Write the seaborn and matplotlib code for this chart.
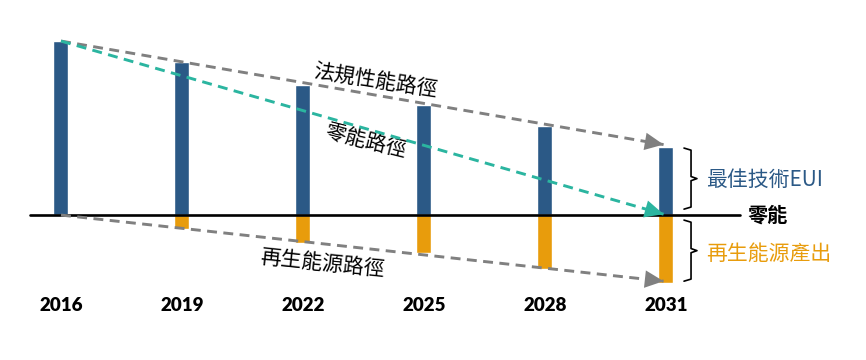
import matplotlib
matplotlib.use("Agg")
import matplotlib.pyplot as plt
import seaborn as sns
import pandas as pd

# ---- data ----
years = ["2016", "2019", "2022", "2025", "2028", "2031"]
best_eui = [100, 88, 75, 63, 51, 39]
renewable = [0, -8, -16, -22, -31, -39]

label_reg = "法規性能路徑"
label_zero_path = "零能路徑"
label_ren_path = "再生能源路徑"
label_eui = "最佳技術EUI"
label_zero = "零能"
label_ren_out = "再生能源產出"

BLUE = "#2B5986"
ORANGE = "#E89C0C"
TEAL = "#2BB5A0"
GRAY = "#808080"

sns.set_theme(style="white")
plt.rcParams['font.family'] = ['Noto Sans CJK TC', 'DejaVu Sans']

fig = plt.figure(figsize=(8.66, 3.6), dpi=100)
ax = fig.add_axes([0, 0, 1, 1])
df = pd.DataFrame({"year": years, "eui": best_eui, "ren": renewable})
sns.barplot(data=df, x="year", y="eui", color=BLUE, saturation=1, width=0.124,
            errorbar=None, ax=ax, zorder=2)
sns.barplot(data=df, x="year", y="ren", color=ORANGE, saturation=1, width=0.124,
            errorbar=None, ax=ax, zorder=2)
ax.set_xlim(-0.504, 6.653)
ax.set_ylim(-83.3, 123.6)
ax.axis("off")

# baseline
ax.axhline(0, xmin=0.035, xmax=0.854, color="black", lw=1.9, zorder=4)

n = len(years) - 1


def dashed_arrow(x0, y0, x1, y1, color):
    ax.plot([x0, x1], [y0, y1], color=color,
            lw=2.1, dashes=(3.4, 2.2), zorder=5, solid_capstyle="butt")
    fx = x1 - 0.12
    fy = y1 - (y1 - y0) * 0.12 / (x1 - x0)
    ax.annotate("", xy=(x1, y1), xytext=(fx, fy),
                arrowprops=dict(arrowstyle="-|>,head_length=0.75,head_width=0.35",
                                color=color, lw=0, shrinkA=0, shrinkB=0,
                                mutation_scale=18), zorder=6)


dashed_arrow(0, best_eui[0], n - 0.02, best_eui[n] + 1.5, GRAY)
dashed_arrow(0, best_eui[0], n - 0.02, 0.5, TEAL)
dashed_arrow(0, renewable[0], n - 0.02, renewable[n] + 1.0, GRAY)

# path labels
ax.text(2.595, 77, label_reg, rotation=-9, rotation_mode="anchor", ha="center",
        va="center", fontsize=15, color="black")
ax.text(2.52, 42.5, label_zero_path, rotation=-14, rotation_mode="anchor", ha="center",
        va="center", fontsize=15, color="black")
ax.text(2.157, -27.6, label_ren_path, rotation=-6, rotation_mode="anchor", ha="center",
        va="center", fontsize=15, color="black")


# braces
def brace(top, bottom):
    xl, xs, xn = n + 0.149, n + 0.207, n + 0.256
    mid = (top + bottom) / 2
    ax.plot([xl, xs, xs, xn, xs, xs, xl],
            [top, top - 1.2, mid + 1.2, mid, mid - 1.2, bottom + 1.2, bottom],
            color="black", lw=1.2, zorder=5, solid_joinstyle="round")
    return mid


m1 = brace(best_eui[n] - 0.5, 3.4)
m2 = brace(-2.9, renewable[n] + 1.0)
ax.text(n + 0.33, m1 - 1.0, label_eui, ha="left", va="center", fontsize=15, color=BLUE)
ax.text(n + 0.33, m2 - 2.0, label_ren_out, ha="left", va="center", fontsize=15, color=ORANGE)
ax.text(n + 0.675, 0, label_zero, ha="left", va="center", fontsize=14.5,
        color="black", fontweight="bold")

# year labels
for i, yr in enumerate(years):
    ax.text(i, -51.7, yr, ha="center", va="center", fontsize=13.5, fontweight="heavy",
            family=["Lato", "DejaVu Sans"], color="black")

fig.savefig("out.png", dpi=100)
